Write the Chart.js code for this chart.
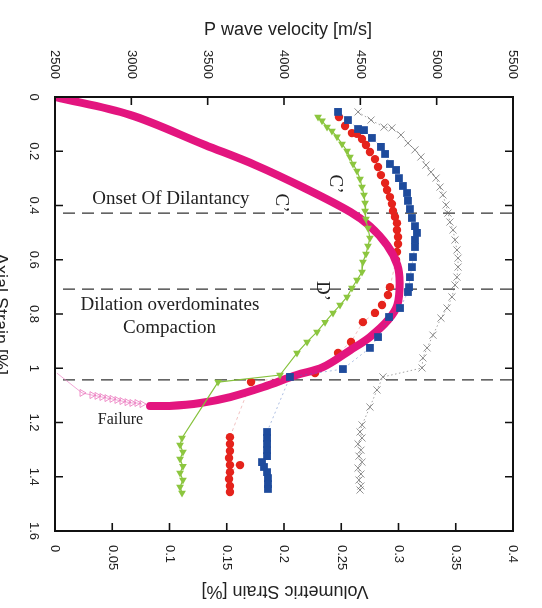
<!DOCTYPE html>
<html><head><meta charset="utf-8">
<script src="https://cdn.jsdelivr.net/npm/chart.js@4.4.1/dist/chart.umd.min.js"></script>
<style>html,body{margin:0;padding:0;background:#fff;}canvas{display:block;}</style>
</head><body>
<canvas id="c" width="542" height="608"></canvas>
<script>
// ---- Axis ticks ----
const velocityTicks = [2500, 3000, 3500, 4000, 4500, 5000, 5500];
const volTicks = [0, 0.05, 0.1, 0.15, 0.2, 0.25, 0.3, 0.35, 0.4];
const volTickLabels = ['0', '0.05', '0.1', '0.15', '0.2', '0.25', '0.3', '0.35', '0.4'];
const axialTicks = [0, 0.2, 0.4, 0.6, 0.8, 1, 1.2, 1.4, 1.6];
const axialTickLabels = ['0', '0.2', '0.4', '0.6', '0.8', '1', '1.2', '1.4', '1.6'];
const stageStrains = [0.428, 0.708, 1.043];

// ---- Volumetric strain (bottom axis) ----
const volStrain = [0, 0.0655, 0.131, 0.175, 0.218, 0.258, 0.275, 0.290, 0.299, 0.301, 0.299, 0.291, 0.275, 0.258, 0.234, 0.211, 0.182, 0.153, 0.127, 0.100, 0.083];
const volAxial  = [0, 0.066, 0.177, 0.251, 0.336, 0.424, 0.476, 0.546, 0.619, 0.686, 0.767, 0.822, 0.885, 0.933, 0.996, 1.025, 1.069, 1.106, 1.128, 1.139, 1.139];

const failVol   = [0.0017, 0.0236, 0.0323, 0.0367, 0.041, 0.0454, 0.0498, 0.0541, 0.0585, 0.0629, 0.0672, 0.0716, 0.076];
const failAxial = [1.018, 1.091, 1.099, 1.102, 1.106, 1.110, 1.113, 1.117, 1.121, 1.125, 1.128, 1.128, 1.132];

// ---- P wave velocities (top axis) ----
const greenP = [4223,4249,4282,4314,4347,4380,4413,4432,4452,4478,4498,4511,4524,4531,4531,4537,4550,4563,4550,4537,4517,4511,4478,4445,4413,4367,4321,4269,4216,4151,4085,3974,3568,3332,3319,3338,3319,3338,3319,3338,3319,3332];
const greenAxial = [0.074,0.088,0.111,0.125,0.147,0.173,0.199,0.221,0.247,0.273,0.302,0.332,0.361,0.391,0.420,0.450,0.483,0.520,0.549,0.579,0.608,0.645,0.675,0.704,0.737,0.767,0.796,0.830,0.866,0.903,0.944,1.025,1.051,1.257,1.283,1.309,1.335,1.361,1.386,1.412,1.438,1.460];

const redP = [4360,4400,4445,4478,4511,4537,4563,4596,4616,4635,4662,4675,4694,4707,4714,4727,4740,4740,4747,4747,4740,4734,4694,4681,4642,4596,4517,4439,4354,4203,3784,3646,3646,3646,3640,3646,3712,3646,3640,3646,3646];
const redAxial = [0.074,0.107,0.133,0.136,0.155,0.177,0.203,0.229,0.258,0.288,0.317,0.343,0.369,0.394,0.420,0.442,0.465,0.490,0.516,0.542,0.571,0.601,0.701,0.730,0.767,0.796,0.830,0.903,0.944,1.018,1.051,1.254,1.279,1.305,1.331,1.357,1.357,1.383,1.408,1.434,1.456];

const blueP = [4354,4419,4485,4524,4576,4635,4662,4694,4734,4753,4779,4806,4812,4825,4838,4858,4871,4858,4858,4845,4838,4825,4819,4812,4760,4688,4616,4563,4386,4039,3889,3889,3889,3889,3889,3856,3869,3889,3895,3895,3895];
const blueAxial = [0.055,0.085,0.118,0.122,0.151,0.184,0.210,0.247,0.269,0.299,0.328,0.354,0.383,0.413,0.446,0.476,0.501,0.527,0.553,0.590,0.627,0.664,0.701,0.719,0.778,0.811,0.885,0.925,1.003,1.032,1.235,1.257,1.279,1.302,1.324,1.346,1.364,1.383,1.405,1.427,1.445];

const grayP = [4485,4570,4655,4707,4766,4812,4858,4897,4930,4963,4996,5022,5041,5061,5074,5087,5107,5120,5133,5140,5140,5133,5120,5100,5068,5028,4976,4937,4910,4904,4648,4609,4563,4511,4498,4511,4485,4504,4491,4511,4485,4504,4491,4504,4498];
const grayAxial = [0.055,0.085,0.111,0.114,0.140,0.170,0.195,0.221,0.251,0.277,0.299,0.332,0.361,0.398,0.428,0.461,0.490,0.527,0.564,0.594,0.627,0.664,0.693,0.737,0.778,0.815,0.878,0.925,0.962,0.999,1.032,1.080,1.143,1.209,1.235,1.257,1.279,1.302,1.324,1.346,1.368,1.390,1.412,1.434,1.449];

const pts = (xs, ys) => xs.map((v, i) => ({x: v, y: ys[i]}));

const SANS = '"Liberation Sans", Arial, sans-serif';
const SERIF = '"Liberation Serif", "Times New Roman", serif';

const decor = {
  id: 'decor',
  beforeDatasetsDraw(chart) {
    const {ctx, chartArea: a, scales: {y}} = chart;
    ctx.save();
    ctx.strokeStyle = '#333';
    ctx.lineWidth = 1.3;
    ctx.setLineDash([12, 7]);
    stageStrains.forEach(v => {
      const py = y.getPixelForValue(v);
      ctx.beginPath(); ctx.moveTo(a.left + 8, py); ctx.lineTo(a.right + 3, py); ctx.stroke();
    });
    ctx.restore();
  },
  afterDatasetsDraw(chart) {
    const {ctx, chartArea: a, scales: {x, x2, y}} = chart;
    ctx.save();
    // annotations
    ctx.fillStyle = '#222';
    ctx.textAlign = 'center'; ctx.textBaseline = 'middle';
    ctx.font = '19px ' + SERIF;
    const tx = (v) => x.getPixelForValue(v), ty = (v) => y.getPixelForValue(v);
    ctx.fillText('Onset Of Dilantancy', tx(0.1013), ty(0.376));
    ctx.fillText('Dilation overdominates', tx(0.1004), ty(0.767));
    ctx.fillText('Compaction', tx(0.100), ty(0.852));
    ctx.font = '16px ' + SERIF;
    ctx.fillText('Failure', tx(0.0572), ty(1.191));
    ctx.font = '19px ' + SERIF;
    [['C\u2019', 0.2444, 0.321], ['C\u2019', 0.1973, 0.391], ['D\u2019', 0.2331, 0.715]].forEach(([t, vx, vy]) => {
      ctx.save(); ctx.translate(tx(vx), ty(vy)); ctx.rotate(Math.PI / 2); ctx.fillText(t, 0, 0); ctx.restore();
    });
    // frame
    ctx.strokeStyle = '#111'; ctx.lineWidth = 2; ctx.setLineDash([]);
    ctx.strokeRect(a.left, a.top, a.right - a.left, a.bottom - a.top);
    ctx.lineWidth = 1.6;
    const tl = 8;
    ctx.beginPath();
    velocityTicks.forEach(v => { const px = x2.getPixelForValue(v); ctx.moveTo(px, a.top); ctx.lineTo(px, a.top + tl); });
    volTicks.forEach(v => { const px = x.getPixelForValue(v); ctx.moveTo(px, a.bottom); ctx.lineTo(px, a.bottom - tl); });
    axialTicks.forEach(v => { const py = y.getPixelForValue(v); ctx.moveTo(a.left, py); ctx.lineTo(a.left + tl, py); ctx.moveTo(a.right, py); ctx.lineTo(a.right - tl, py); });
    ctx.stroke();
    // tick labels
    ctx.fillStyle = '#222';
    ctx.font = '13px ' + SANS;
    ctx.textBaseline = 'middle';
    velocityTicks.forEach(v => {
      ctx.save(); ctx.translate(x2.getPixelForValue(v), a.top - 18); ctx.rotate(Math.PI / 2);
      ctx.textAlign = 'right'; ctx.fillText(String(v), 0, 0); ctx.restore();
    });
    volTicks.forEach((v, i) => {
      ctx.save(); ctx.translate(x.getPixelForValue(v), a.bottom + 14); ctx.rotate(Math.PI / 2);
      ctx.textAlign = 'left'; ctx.fillText(volTickLabels[i], 0, 0); ctx.restore();
    });
    axialTicks.forEach((v, i) => {
      ctx.save(); ctx.translate(a.left - 21, y.getPixelForValue(v)); ctx.rotate(Math.PI / 2);
      ctx.textAlign = 'center'; ctx.fillText(axialTickLabels[i], 0, 0); ctx.restore();
    });
    // axis titles
    ctx.font = '18px ' + SANS;
    ctx.textAlign = 'center'; ctx.textBaseline = 'middle';
    ctx.fillText('P wave velocity [m/s]', (a.left + a.right) / 2 + 4, 30);
    ctx.save(); ctx.translate((a.left + a.right) / 2 + 1, 591); ctx.rotate(Math.PI);
    ctx.fillText('Volumetric Strain [%]', 0, 0); ctx.restore();
    ctx.save(); ctx.translate(-5, (a.top + a.bottom) / 2); ctx.rotate(Math.PI / 2);
    ctx.textBaseline = 'alphabetic'; ctx.fillText('Axial Strain [%]', 0, 0); ctx.restore();
    ctx.restore();
  }
};

new Chart(document.getElementById('c'), {
  type: 'scatter',
  data: {
    datasets: [
      { label: 'Blue', xAxisID: 'x2', data: pts(blueP, blueAxial), showLine: true,
        borderColor: 'rgba(70,110,190,0.45)', borderWidth: 1, borderDash: [2, 3],
        pointStyle: 'rect', pointRadius: 5.5, backgroundColor: '#1e4b9c', pointBorderColor: '#1e4b9c', pointBorderWidth: 0 },
      { label: 'Green', xAxisID: 'x2', data: pts(greenP, greenAxial), showLine: true,
        borderColor: '#86c23c', borderWidth: 1.2,
        pointStyle: 'triangle', rotation: 180, pointRadius: 4.5, backgroundColor: '#8cc63f', pointBorderColor: '#8cc63f', pointBorderWidth: 0 },
      { label: 'Volumetric', xAxisID: 'x', data: pts(volStrain, volAxial), showLine: true,
        borderColor: '#e3157f', borderWidth: 8, tension: 0.35, pointRadius: 0, borderCapStyle: 'round', borderJoinStyle: 'round' },
      { label: 'Failure', xAxisID: 'x', data: pts(failVol, failAxial), showLine: true,
        borderColor: 'rgba(235,130,195,0.7)', borderWidth: 1,
        pointStyle: 'triangle', rotation: 90, pointRadius: failVol.map((v, i) => i === 0 ? 0 : 4),
        backgroundColor: 'rgba(255,255,255,0)', pointBorderColor: 'rgba(235,120,190,0.8)', pointBorderWidth: 1 },
      { label: 'Red', xAxisID: 'x2', data: pts(redP, redAxial), showLine: true,
        borderColor: 'rgba(225,120,120,0.45)', borderWidth: 1, borderDash: [3, 3],
        pointStyle: 'circle', pointRadius: 4.2, backgroundColor: '#e5231c', pointBorderColor: '#e5231c', pointBorderWidth: 0 },
      { label: 'Gray', xAxisID: 'x2', data: pts(grayP, grayAxial), showLine: true,
        borderColor: 'rgba(90,90,90,0.55)', borderWidth: 1, borderDash: [1.5, 2.5],
        pointStyle: 'crossRot', pointRadius: 5, backgroundColor: 'rgba(0,0,0,0)', pointBorderColor: 'rgba(100,100,100,0.7)', pointBorderWidth: 1 }
    ]
  },
  options: {
    responsive: false,
    animation: false,
    events: [],
    layout: { padding: { left: 55, right: 29, top: 97, bottom: 77 } },
    plugins: { legend: { display: false }, tooltip: { enabled: false } },
    scales: {
      x: { type: 'linear', position: 'bottom', min: 0, max: 0.4, display: false },
      x2: { type: 'linear', position: 'top', min: 2500, max: 5500, display: false },
      y: { type: 'linear', min: 0, max: 1.6, reverse: true, display: false }
    }
  },
  plugins: [decor]
});
</script>
</body></html>
